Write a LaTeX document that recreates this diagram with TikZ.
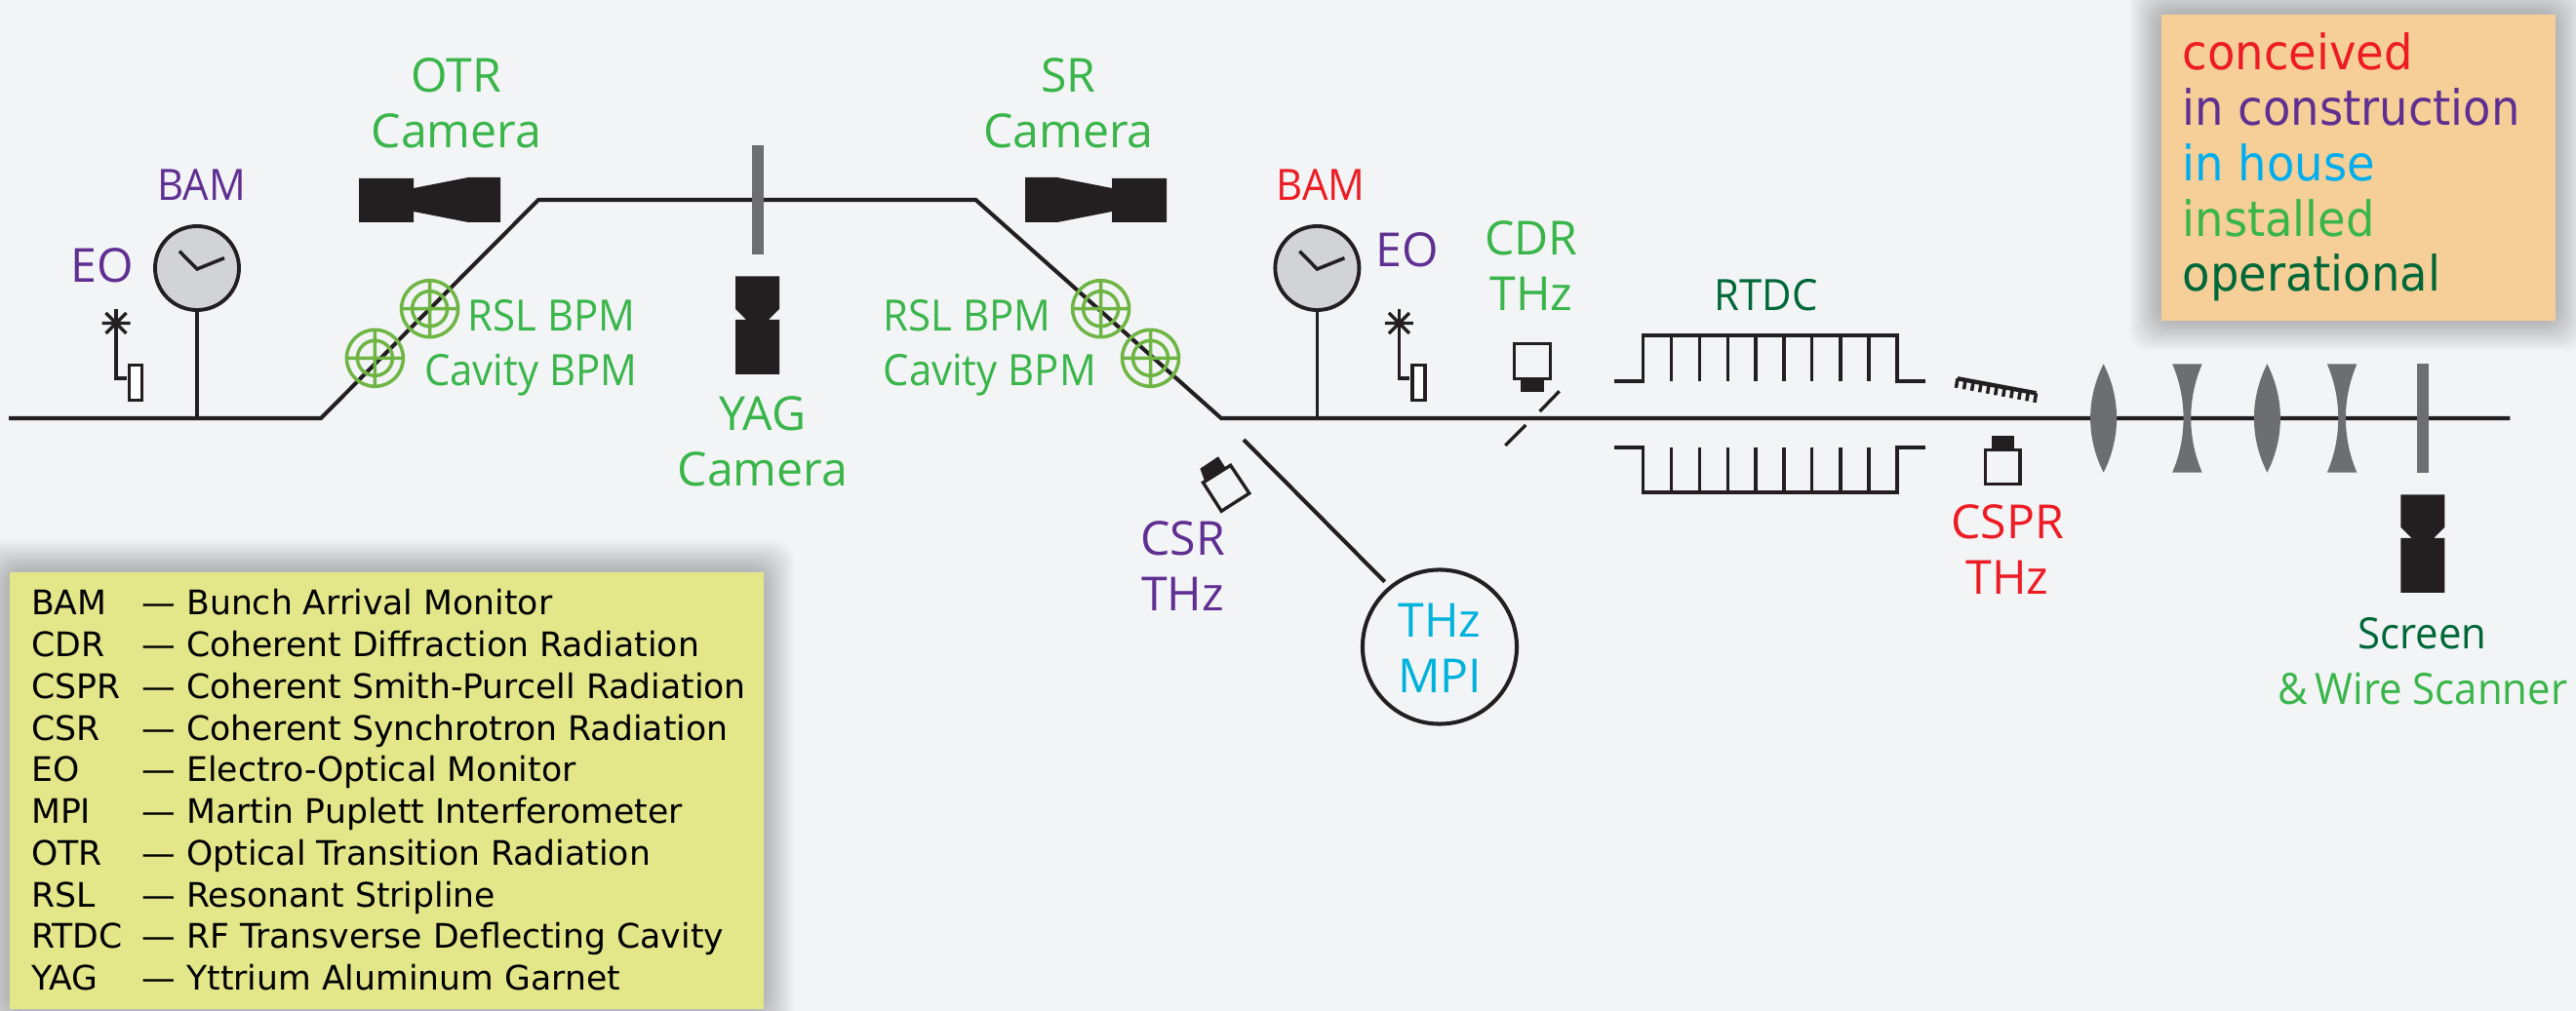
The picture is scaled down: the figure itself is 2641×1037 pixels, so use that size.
\documentclass[tikz,border=0pt]{standalone}
\usepackage{fontspec}
\usetikzlibrary{calc}
\newfontfamily\labfont{Open Sans}
\newfontfamily\labnarrow[FakeStretch=0.945]{Open Sans}
\newfontfamily\boxfont{DejaVu Sans}
\newfontfamily\keyfont[FakeStretch=0.93]{DejaVu Sans}
\definecolor{bgc}{HTML}{F2F4F6}
\definecolor{ink}{HTML}{231F20}
\definecolor{gry}{HTML}{6D6E71}
\definecolor{clk}{HTML}{D1D3D4}
\definecolor{cred}{HTML}{ED1C24}
\definecolor{cpur}{HTML}{5F2F91}
\definecolor{ccya}{HTML}{00B2DC}
\definecolor{ccyb}{HTML}{00AEEF}
\definecolor{cgrn}{HTML}{39B54A}
\definecolor{cdrk}{HTML}{006838}
\definecolor{ring}{HTML}{6FB544}
\definecolor{ylw}{HTML}{E3E78A}
\definecolor{org}{HTML}{F5CF97}
\newcommand{\glosrow}[2]{\makebox[1.13cm][l]{#1}\makebox[0.46cm][l]{—}#2}
\tikzset{
  x=0.01cm,y=-0.01cm,
  beam/.style={draw=ink,line width=1.15pt,line join=miter},
  thin line/.style={draw=ink,line width=0.95pt},
  solid ink/.style={fill=ink,draw=none},
  hollow/.style={draw=ink,line width=0.95pt,fill=white},
  lensfill/.style={fill=gry,draw=none},
  lab/.style={font=\labfont\fontsize{13.7}{16.2}\selectfont,align=center,anchor=base,inner sep=0pt,yshift=-0.015cm},
  smalllab/.style={font=\labnarrow\fontsize{12.6}{16.2}\selectfont,anchor=base,inner sep=0pt,yshift=-0.015cm},
  clock/.style={circle,draw=ink,line width=1.1pt,fill=clk,minimum size=0.86cm,inner sep=0pt},
  pics/clockhands/.style={code={\draw[draw=ink,line width=1pt] (-18,-17.3) -- (0,1) -- (28,-10.3);}},
  pics/eomon/.style={code={
    \draw[thin line] (-14.5,0) -- (14.5,0) (-10.5,-10.5) -- (10.5,10.5) (-10.5,10.5) -- (10.5,-10.5);
    \draw[thin line] (0,-14.5) -- (0,56.5) -- (10.5,56.5);
    \draw[hollow] (13.5,43) rectangle (26.5,79);}},
  pics/bpmring/.style={code={
    \draw[draw=ring,line width=1pt] (0,0) circle [radius=29] (0,0) circle [radius=18] (-29,0) -- (29,0) (0,-29) -- (0,29);}},
  pics/convex/.style={code={\fill[lensfill] (0,-55.7) .. controls (18,-20) and (18,20) .. (0,55.7) .. controls (-18,20) and (-18,-20) .. (0,-55.7) -- cycle;}},
  pics/concave/.style={code={\fill[lensfill] (-15.3,-55.7) -- (15.3,-55.7) .. controls (0,-20) and (0,20) .. (15.3,55.7) -- (-15.3,55.7) .. controls (0,20) and (0,-20) .. (-15.3,-55.7) -- cycle;}},
  pics/vcamera/.style={code={\fill[solid ink] (-22.5,0) -- (22.5,0) -- (22.5,33.5) -- (11.3,44.7) -- (22.5,44.7) -- (22.5,100.5) -- (-22.5,100.5) -- (-22.5,44.7) -- (-11.3,44.7) -- (-22.5,33.5) -- cycle;}},
  pics/hcamera/.style={code={\fill[solid ink] (0,0) -- (56,0) -- (56,10) -- (112,-1) -- (145,-1) -- (145,45) -- (112,45) -- (56,34) -- (56,45) -- (0,45) -- cycle;}},
}
\begin{document}
\begin{tikzpicture}
\useasboundingbox (0,0) rectangle (2641,1037);
\fill[bgc] (0,0) rectangle (2641,1037);

% soft shadows of the two boxes
\foreach \i in {1,...,16}{
  \pgfmathsetmacro{\e}{34-2*\i}
  \fill[black,opacity=0.016,rounded corners=0.2cm] (9-\e,586-\e) rectangle (782+\e,1034+\e);
  \fill[black,opacity=0.016,rounded corners=0.2cm] (2215-\e,14-\e) rectangle (2619+\e,328+\e);
}
\node[fill=ylw,draw=none,minimum width=7.73cm,minimum height=4.48cm,inner sep=0pt,anchor=north west] (glossbox) at (9,586) {};
\node[fill=org,draw=none,minimum width=4.04cm,minimum height=3.14cm,inner sep=0pt,anchor=north west] (keybox) at (2215,14) {};

% beam line coordinates
\coordinate (b0) at (9,429);
\coordinate (b1) at (329,429);
\coordinate (b2) at (552,205);
\coordinate (b3) at (1000.4,205);
\coordinate (b4) at (1252,429);
\coordinate (b5) at (2573.4,429);
\draw[beam] (b0) -- (b1) -- (b2) -- (b3) -- (b4) -- (b5);

% clocks
\node[clock] (bamA) at (202,275) {};
\node[clock] (bamB) at (1350.4,275) {};
\draw[thin line] (bamA.south) -- (bamA.south |- b0);
\draw[thin line] (bamB.south) -- (bamB.south |- b0);
\pic at (bamA) {clockhands};
\pic at (bamB) {clockhands};

% electro-optic monitors
\pic at (119,331.5) {eomon};
\pic at (1434.4,331.5) {eomon};

% BPM rings
\pic at (440.6,316.7) {bpmring};
\pic at (384.4,367.3) {bpmring};
\pic at (1128.6,316.7) {bpmring};
\pic at (1179.5,367.3) {bpmring};

% cameras
\pic at (368,183) {hcamera};
\pic[xscale=-1] at (1196,183) {hcamera};
\pic at (776.5,283.3) {vcamera};
\pic at (2483.8,507.3) {vcamera};

% screens
\fill[lensfill] (770.5,149) rectangle (782.6,260.7);
\fill[lensfill] (2478,373.3) rectangle (2489.8,484.7);

% lenses
\pic at (2156.6,429) {convex};
\pic at (2242.4,429) {concave};
\pic at (2324.4,429) {convex};
\pic at (2401.1,429) {concave};

% CSR detector and MPI
\fill[solid ink] (1230.4,480.7) -- (1249,468.3) -- (1257,480.7) -- (1234.8,492.7) -- cycle;
\draw[hollow,fill=bgc] (1233.5,495) -- (1261.6,477.3) -- (1280.8,506) -- (1252.2,524.3) -- cycle;
\node[circle,draw=ink,line width=1.15pt,minimum size=1.58cm,inner sep=0pt] (mpi) at (1476,663.5) {};
\coordinate (mpistart) at (1275,451);
\coordinate (mpiend) at (1419.6,596.7);
\draw[beam] (mpistart) -- (mpiend);

% CDR detector and mirror
\draw[hollow,fill=bgc] (1552.7,352.7) rectangle (1589.3,388.7);
\fill[solid ink] (1559,388.7) rectangle (1583,402.3);
\draw[thin line] (1598.7,401.3) -- (1578.6,422);
\draw[thin line] (1564.3,436) -- (1543.3,457);

% RTDC
\draw[thin line,line width=1.05pt] (1655.4,390.7) -- (1684.4,390.7) -- (1684.4,344.3) -- (1945,344.3) -- (1945,390.7) -- (1973.7,390.7);
\draw[thin line,line width=1.05pt] (1655.4,459) -- (1684.4,459) -- (1684.4,504.7) -- (1945,504.7) -- (1945,459) -- (1973.7,459);
\foreach \fx in {1713.4,1742.4,1771.4,1800,1829,1857.6,1887,1916}{
  \draw[thin line] (\fx,344.3) -- (\fx,390.7);
  \draw[thin line] (\fx,459) -- (\fx,504.7);
}

% grating
\coordinate (gr0) at (2007,388.3);
\coordinate (gr1) at (2087.5,403.3);
\draw[thin line,line width=1.25pt] (gr0) -- (gr1);
\foreach \t in {0,0.1,...,1.01}{
  \draw[thin line,line width=1pt] ($(gr0)!\t!(gr1)$) -- ++(-1.6,9.5);
}

% CSPR detector
\draw[hollow,fill=bgc] (2035.3,461.7) rectangle (2071,496.7);
\fill[solid ink] (2041.5,447.3) rectangle (2065,461.7);

% labels
\node[smalllab,text=cpur] (lBamA) at (207,204) {BAM};
\node[lab,text=cpur] (lEoA) at (105,288) {EO};
\node[lab,text=cgrn] (lOtr) at (468,150) {OTR\\Camera};
\node[lab,text=cgrn] (lSr) at (1095.5,150) {SR\\Camera};
\node[lab,text=cgrn] (lYag) at (782,496.7) {YAG\\Camera};
\node[smalllab,text=cred] (lBamB) at (1354,204) {BAM};
\node[lab,text=cpur] (lEoB) at (1443,272) {EO};
\node[lab,text=cgrn] (lCdr) at (1570,317.3) {CDR\\THz};
\node[smalllab,text=cdrk] (lRtdc) at (1810.7,316.7) {RTDC};
\node[lab,text=cpur] (lCsr) at (1212.5,625) {CSR\\THz};
\node[lab,text=ccya] (lMpi) at (1476,709) {THz\\MPI};
\node[lab,text=cred] (lCspr) at (2058,608.3) {CSPR\\THz};
\node[smalllab,text=cgrn,anchor=base west] (lRslA) at (479,338) {RSL BPM};
\node[smalllab,text=cgrn,anchor=base west] (lCavA) at (434.5,394) {Cavity BPM};
\node[smalllab,text=cgrn,anchor=base west] (lRslB) at (905,338) {RSL BPM};
\node[smalllab,text=cgrn,anchor=base west] (lCavB) at (905,394) {Cavity BPM};
\node[smalllab,text=cdrk] (lScreen) at (2483.6,664) {Screen};
\node[smalllab,text=cgrn] (lWire) at (2484,720.7) {\&\,Wire Scanner};

% status key
\node[font=\keyfont\fontsize{14.2}{16.2}\selectfont,anchor=base west,inner sep=0pt,align=left] (keytext) at (2237,299) {%
  \textcolor{cred}{conceived}\\
  \textcolor{cpur}{in construction}\\
  \textcolor{ccyb}{in house}\\
  \textcolor{cgrn}{installed}\\
  \textcolor{cdrk}{operational}};

% glossary
\node[font=\boxfont\fontsize{9.85}{12.15}\selectfont,text=black,anchor=base west,inner sep=0pt,align=left] (glosstext) at (31.5,1015.5) {%
  \glosrow{BAM}{Bunch Arrival Monitor}\\
  \glosrow{CDR}{Coherent Diffraction Radiation}\\
  \glosrow{CSPR}{Coherent Smith-Purcell Radiation}\\
  \glosrow{CSR}{Coherent Synchrotron Radiation}\\
  \glosrow{EO}{Electro-Optical Monitor}\\
  \glosrow{MPI}{Martin Puplett Interferometer}\\
  \glosrow{OTR}{Optical Transition Radiation}\\
  \glosrow{RSL}{Resonant Stripline}\\
  \glosrow{RTDC}{RF Transverse Deflecting Cavity}\\
  \glosrow{YAG}{Yttrium Aluminum Garnet}};
\end{tikzpicture}
\end{document}
